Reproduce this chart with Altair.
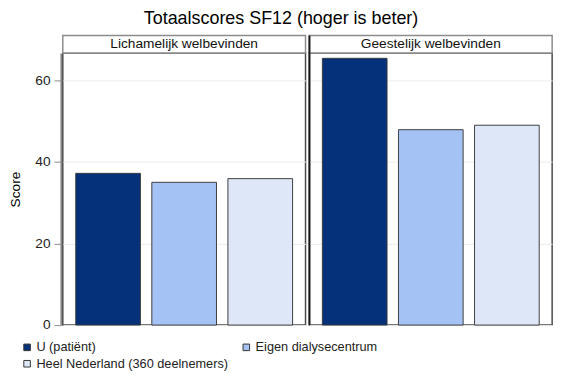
import altair as alt
import pandas as pd

panels = ["Lichamelijk welbevinden", "Geestelijk welbevinden"]
groups = ["U (patiënt)", "Eigen dialysecentrum", "Heel Nederland (360 deelnemers)"]
legend_order = ["U (patiënt)", "Heel Nederland (360 deelnemers)", "Eigen dialysecentrum"]
scores_lich = [37.2, 35.0, 35.9]
scores_geest = [65.4, 47.9, 49.0]
colors = ["#05317A", "#A4C2F3", "#DDE7F8"]
y_ticks = [0, 20, 40, 60]

rows = []
for g, v in zip(groups, scores_lich):
    rows.append({"Panel": panels[0], "Group": g, "Score": v})
for g, v in zip(groups, scores_geest):
    rows.append({"Panel": panels[1], "Group": g, "Score": v})
df = pd.DataFrame(rows)

FONT = "Liberation Sans, Arial, sans-serif"
W = 248
H = 278

base = alt.Chart()

bars = base.mark_bar(stroke="#3c3c3c", strokeWidth=1).encode(
    x=alt.X("Group:N", sort=groups, axis=None,
            scale=alt.Scale(paddingInner=0.15, paddingOuter=0.17)),
    y=alt.Y("Score:Q",
            scale=alt.Scale(domain=[0, 66.7], nice=False, zero=True),
            axis=alt.Axis(values=y_ticks, title="Score", grid=True,
                          gridColor="#ececec", gridWidth=1,
                          domainColor="#8a8a8a", domainWidth=2,
                          tickColor="#8a8a8a", tickSize=7, tickWidth=1,
                          labelFont=FONT, labelFontSize=14, labelColor="#222222",
                          labelPadding=4,
                          titleFont=FONT, titleFontSize=14, titleFontWeight="normal",
                          titleColor="#000000", titlePadding=13)),
    color=alt.Color("Group:N", sort=groups,
                    scale=alt.Scale(domain=groups, range=colors),
                    legend=alt.Legend(title=None, orient="none", columns=2,
                                      values=legend_order,
                                      legendX=-43, legendY=294,
                                      symbolType="square", symbolSize=45,
                                      symbolStrokeColor="#333333", symbolStrokeWidth=1,
                                      labelFont=FONT, labelFontSize=13, labelLimit=400,
                                      labelColor="#222222", labelOffset=3,
                                      columnPadding=12, rowPadding=3)),
)

first = alt.datum.Group == groups[0]

header_box = base.transform_filter(first).mark_rect(
    fill="white", stroke="#8c8c8c", strokeWidth=1.5, clip=False
).encode(x=alt.value(0), x2=alt.value(W), y=alt.value(-18), y2=alt.value(0))

header_text = base.transform_filter(first).mark_text(
    font=FONT, fontSize=14, color="#111111", baseline="middle", align="center", clip=False
).encode(text="Panel:N", x=alt.value(W / 2), y=alt.value(-9))

divider = base.transform_filter(first & (alt.datum.Panel == panels[1])).mark_rule(
    color="#1a1a1a", strokeWidth=2, clip=False
).encode(x=alt.value(0), y=alt.value(-18), y2=alt.value(H))

layered = alt.layer(bars, header_box, header_text, divider, data=df).properties(
    width=W, height=H
)

chart = layered.facet(
    column=alt.Column("Panel:N", sort=panels, title=None, header=alt.Header(labels=False)),
    spacing=0,
).properties(
    title=alt.TitleParams("Totaalscores SF12 (hoger is beter)", font=FONT, fontSize=18.3,
                          fontWeight="normal", color="#000000", anchor="middle",
                          dx=0, offset=5.7),
    padding={"left": 0, "top": -3, "right": 5, "bottom": 0},
).configure_view(stroke="#4a4a4a", strokeWidth=1.5)

chart.save("out.html", embed_options={"renderer": "svg", "actions": False})
